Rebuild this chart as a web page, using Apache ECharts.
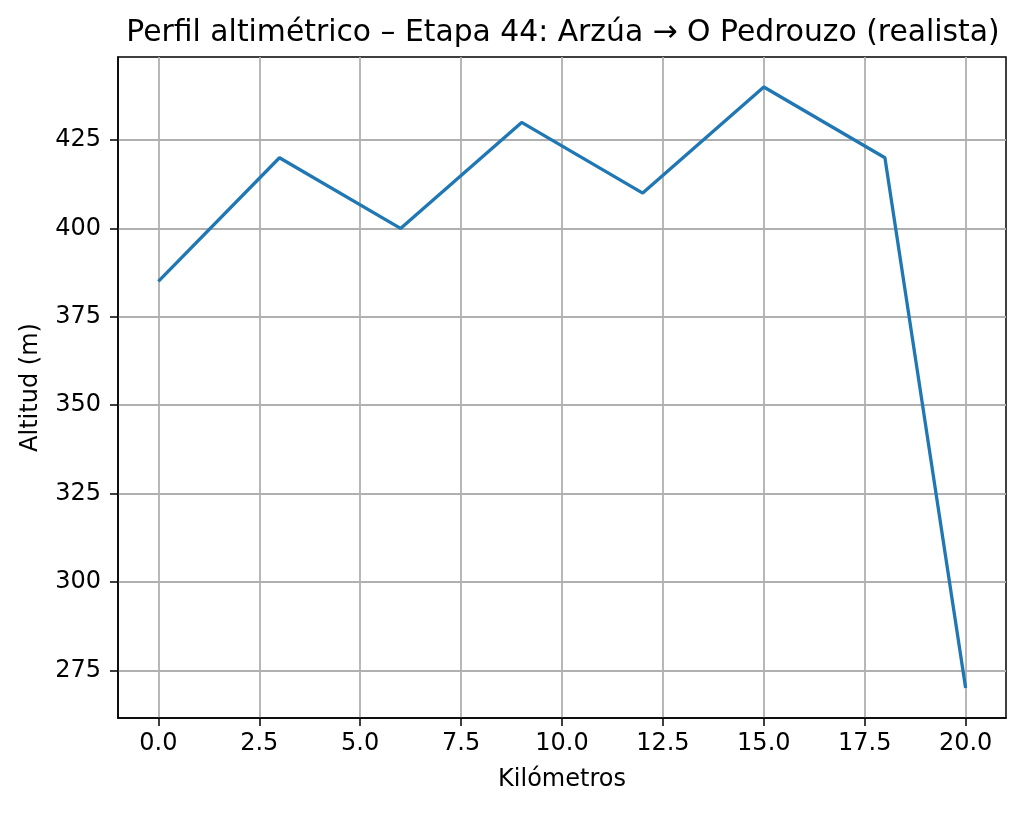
<!DOCTYPE html>
<html>
<head>
<meta charset="utf-8">
<script src="https://cdn.jsdelivr.net/npm/echarts@6/dist/echarts.min.js"></script>
<style>
  html, body { margin: 0; padding: 0; background: #fff; }
</style>
</head>
<body>
<div id="main" style="width:1024px;height:814px"></div>
<script>
// distancia (km) y altitud (m) de la etapa
var kilometros = [0, 3, 6, 9, 12, 15, 18, 20];
var altitudes = [385, 420, 400, 430, 410, 440, 420, 270];
var xTicks = [0, 2.5, 5, 7.5, 10, 12.5, 15, 17.5, 20];
var yTicks = [275, 300, 325, 350, 375, 400, 425];

var fuente = 'DejaVu Sans';

var option = {
    animation: false,
    backgroundColor: '#fff',
    title: {
        text: 'Perfil altimétrico – Etapa 44: Arzúa → O Pedrouzo (realista)',
        left: 558,
        textAlign: 'center',
        top: 13,
        textStyle: {fontFamily: fuente, fontSize: 29.8, fontWeight: 'normal', color: '#000'}
    },
    grid: {
        left: 118, right: 18, top: 57, bottom: 96,
        show: true,
        borderColor: '#000',
        borderWidth: 1.5
    },
    xAxis: {
        type: 'value',
        min: -1, max: 21,
        name: 'Kilómetros',
        nameLocation: 'middle',
        nameGap: 50,
        nameTextStyle: {fontFamily: fuente, fontSize: 24, color: '#000'},
        axisLine: {show: true, onZero: false, lineStyle: {color: '#000', width: 1.5}},
        axisTick: {show: true, inside: false, length: 8, customValues: xTicks, lineStyle: {color: '#000', width: 1.5}},
        axisLabel: {
            customValues: xTicks,
            margin: 14,
            fontFamily: fuente, fontSize: 24, color: '#000',
            formatter: function (v) { return v.toFixed(1); }
        },
        splitLine: {show: true, lineStyle: {color: '#b0b0b0', width: 1.8}}
    },
    yAxis: {
        type: 'value',
        min: 261.5, max: 448.5,
        name: 'Altitud (m)',
        nameLocation: 'middle',
        nameGap: 75,
        nameTextStyle: {fontFamily: fuente, fontSize: 24, color: '#000'},
        axisLine: {show: true, onZero: false, lineStyle: {color: '#000', width: 1.5}},
        axisTick: {show: true, inside: false, length: 8, customValues: yTicks, lineStyle: {color: '#000', width: 1.5}},
        axisLabel: {
            customValues: yTicks,
            margin: 17,
            fontFamily: fuente, fontSize: 24, color: '#000'
        },
        splitLine: {show: true, lineStyle: {color: '#b0b0b0', width: 1.8}}
    },
    series: [
        {
            type: 'line',
            data: kilometros.map(function (k, i) { return [k, altitudes[i]]; }),
            showSymbol: false,
            symbol: 'none',
            lineStyle: {color: '#1f77b4', width: 3.3},
            itemStyle: {color: '#1f77b4'}
        }
    ]
};

var chartDom = document.getElementById('main');
var myChart = echarts.init(chartDom);
option && myChart.setOption(option);
</script>
</body>
</html>
